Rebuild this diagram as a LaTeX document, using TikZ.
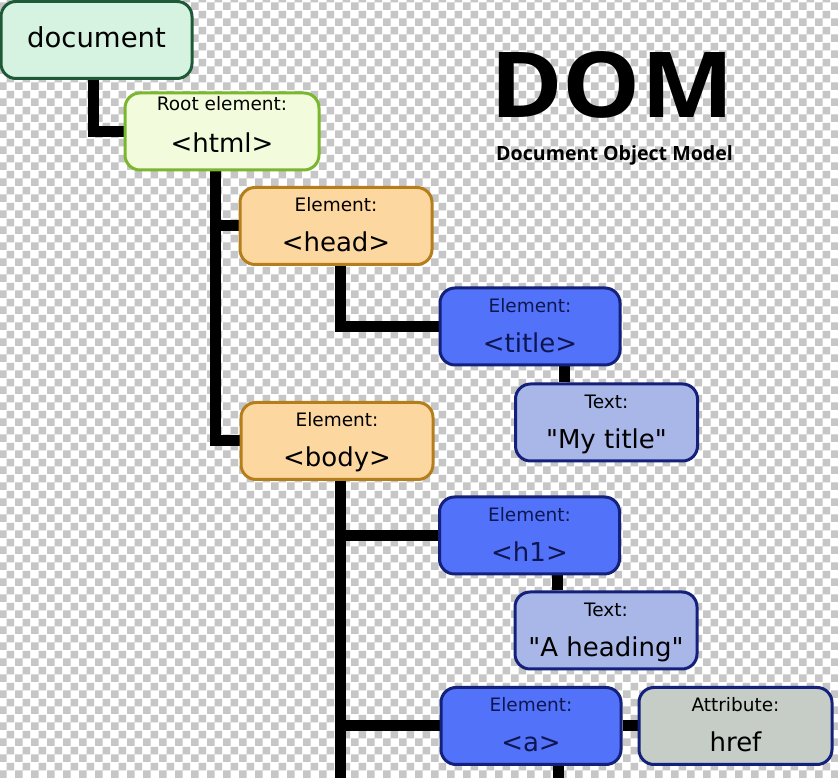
\documentclass[tikz,border=0pt]{standalone}
\usepackage{fontspec}
\setmainfont{DejaVu Sans}
\newfontfamily\titlefont{Open Sans}
\usetikzlibrary{patterns}

\definecolor{checkgray}{HTML}{C6C6C6}
\definecolor{docfill}{HTML}{D6F3E2}
\definecolor{docline}{HTML}{1F5A38}
\definecolor{rootfill}{HTML}{F2FCDC}
\definecolor{rootline}{HTML}{7AB62E}
\definecolor{orfill}{HTML}{FDD7A0}
\definecolor{orline}{HTML}{B57E1C}
\definecolor{blfill}{HTML}{5372FA}
\definecolor{blline}{HTML}{13217A}
\definecolor{ltfill}{HTML}{A8B6E8}
\definecolor{atfill}{HTML}{C6CCC6}
\definecolor{navytext}{HTML}{0E1650}

\pgfdeclarepatternformonly{checker}{\pgfpointorigin}{\pgfpoint{16pt}{16pt}}{\pgfpoint{16pt}{16pt}}{%
  \pgfpathrectangle{\pgfpointorigin}{\pgfpoint{8pt}{8pt}}%
  \pgfpathrectangle{\pgfpoint{8pt}{8pt}}{\pgfpoint{8pt}{8pt}}%
  \pgfusepath{fill}}

\pgfdeclarelayer{back}
\pgfdeclarelayer{links}
\pgfsetlayers{back,links,main}

\begin{document}
\begin{tikzpicture}[x=1pt,y=1pt,
    box/.style={draw, line width=3pt, rounded corners=15pt, minimum height=77pt, inner sep=0pt},
    docbox/.style={box, fill=docfill, draw=docline, minimum width=191pt},
    rootbox/.style={box, fill=rootfill, draw=rootline, minimum width=194pt},
    orbox/.style={box, fill=orfill, draw=orline, minimum width=192pt},
    elbox/.style={box, fill=blfill, draw=blline, minimum width=180pt},
    txbox/.style={box, fill=ltfill, draw=blline, minimum width=182pt},
    atbox/.style={box, fill=atfill, draw=blline, minimum width=193pt},
    lbl/.style={anchor=base, inner sep=0pt, font=\fontsize{18.5}{20}\selectfont},
    tag/.style={anchor=base, inner sep=0pt, font=\fontsize{26}{28}\selectfont},
    link/.style={line width=11pt, black}]

  % background
  \useasboundingbox (0,0) rectangle (838,778);
  \begin{pgfonlayer}{back}
    \fill[white] (0,0) rectangle (838,778);
    \fill[pattern=checker, pattern color=checkgray] (0,0) rectangle (838,778);
  \end{pgfonlayer}

  % title
  \node[anchor=base west, inner sep=0pt, xscale=1.08, font=\titlefont\bfseries\fontsize{91}{93}\selectfont] (dom) at (490,660) {DOM};
  \node[anchor=base west, inner sep=0pt, font=\titlefont\bfseries\fontsize{19.6}{21}\selectfont] (domsub) at (496,617) {Document Object Model};

  % boxes
  \node[docbox] (doc) at (96.5,738) {};
  \node[rootbox] (html) at (222,646.5) {};
  \node[orbox] (head) at (336,552) {};
  \node[elbox] (title) at (530,451.5) {};
  \node[txbox] (mytitle) at (606.5,355.5) {};
  \node[orbox] (body) at (337,337) {};
  \node[elbox] (hone) at (529.5,242.5) {};
  \node[txbox] (heading) at (606,147.5) {};
  \node[elbox] (anode) at (531,52) {};
  \node[atbox] (href) at (735.5,52) {};

  % connectors
  \coordinate (bodyend) at (340,0);
  \coordinate (aend) at (558,0);
  \begin{pgfonlayer}{links}
    \draw[link] ([xshift=-3]doc.south) |- (html.west);
    \draw[link] ([xshift=-7]html.south) |- (head.west);
    \draw[link] ([xshift=-7]html.south) |- (body.west);
    \draw[link] ([xshift=4]head.south) |- (title.west);
    \draw[link] ([xshift=34]title.south) -- ([xshift=34]title.south |- mytitle.north);
    \draw[link] ([xshift=3]body.south) -- (bodyend);
    \draw[link] ([xshift=3]body.south) |- (hone.west);
    \draw[link] ([xshift=3]body.south) |- (anode.west);
    \draw[link] ([xshift=28]hone.south) -- ([xshift=28]hone.south |- heading.north);
    \draw[link] (anode.east) -- (href.west);
    \draw[link] ([xshift=27]anode.south) -- (aend);
  \end{pgfonlayer}

  % texts
  \node[anchor=base, inner sep=0pt, font=\fontsize{27.5}{29}\selectfont] (doc-t) at ([yshift=-8]doc.center) {document};
  \node[lbl] (html-l) at ([yshift=21]html.center) {Root element:};
  \node[tag] (html-t) at ([yshift=-21]html.center) {<html>};
  \node[lbl] (head-l) at ([yshift=14]head.center) {Element:};
  \node[tag] (head-t) at ([yshift=-26]head.center) {<head>};
  \node[lbl, navytext] (title-l) at ([yshift=14]title.center) {Element:};
  \node[tag, navytext] (title-t) at ([yshift=-26]title.center) {<title>};
  \node[lbl] (mytitle-l) at ([yshift=14]mytitle.center) {Text:};
  \node[tag] (mytitle-t) at ([yshift=-26]mytitle.center) {\textquotedbl My title\textquotedbl};
  \node[lbl] (body-l) at ([yshift=14]body.center) {Element:};
  \node[tag] (body-t) at ([yshift=-26]body.center) {<body>};
  \node[lbl, navytext] (hone-l) at ([yshift=14]hone.center) {Element:};
  \node[tag, navytext] (hone-t) at ([yshift=-26]hone.center) {<h1>};
  \node[lbl] (heading-l) at ([yshift=14]heading.center) {Text:};
  \node[tag] (heading-t) at ([yshift=-26]heading.center) {\textquotedbl A heading\textquotedbl};
  \node[lbl, navytext] (anode-l) at ([yshift=14]anode.center) {Element:};
  \node[tag, navytext] (anode-t) at ([yshift=-26]anode.center) {<a>};
  \node[lbl] (href-l) at ([yshift=14]href.center) {Attribute:};
  \node[tag] (href-t) at ([yshift=-26]href.center) {href};
\end{tikzpicture}
\end{document}
